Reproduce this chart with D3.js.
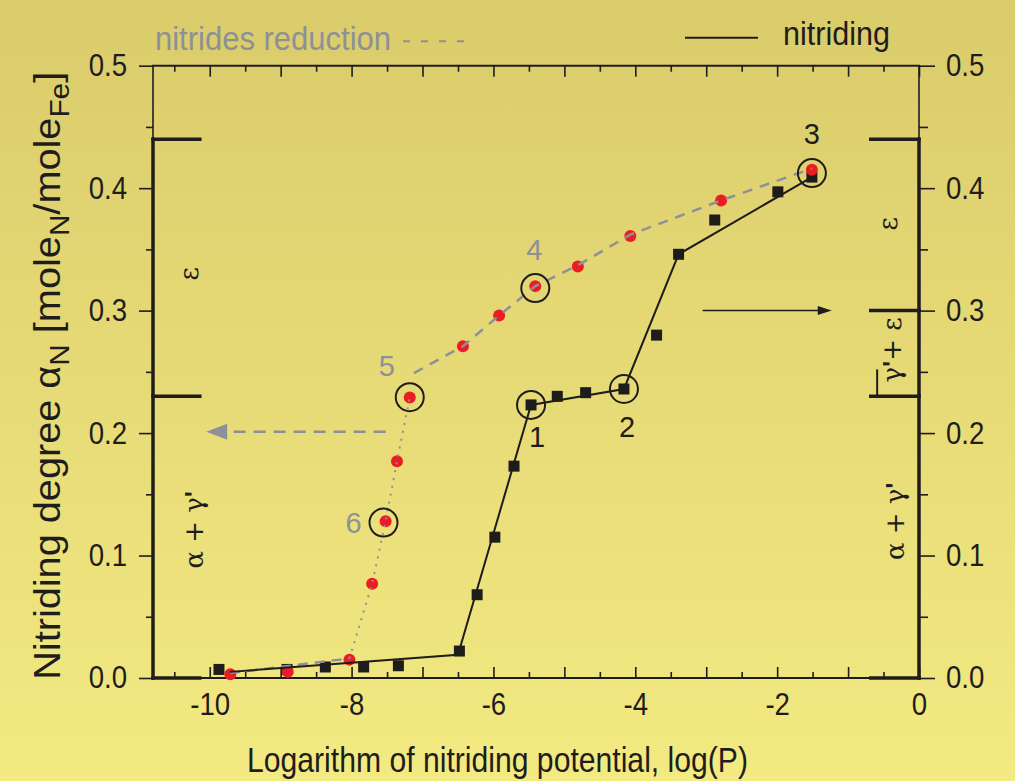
<!DOCTYPE html>
<html><head><meta charset="utf-8">
<script src="https://cdn.jsdelivr.net/npm/d3@7/dist/d3.min.js"></script>
<style>html,body{margin:0;padding:0;overflow:hidden;background:#e6d876}</style>
</head><body>
<svg id="chart" width="1015" height="781"></svg>
<script>
// ---------- data ----------
const nitridingX = [-9.87, -8.91, -8.37, -7.83, -7.34, -6.48, -6.23, -5.98, -5.71, -5.47, -5.10, -4.70, -4.16, -3.70, -3.39, -2.88, -1.99, -1.51];
const nitridingY = [0.007, 0.007, 0.009, 0.009, 0.010, 0.022, 0.068, 0.115, 0.173, 0.223, 0.230, 0.233, 0.236, 0.280, 0.346, 0.374, 0.397, 0.409];
const nitridingLineX = [-9.72, -6.50, -5.47, -4.16, -3.39, -1.51];
const nitridingLineY = [0.005, 0.019, 0.223, 0.236, 0.346, 0.409];
const reductionX = [-9.71, -8.90, -8.03, -7.71, -7.52, -7.36, -7.18, -6.43, -5.92, -5.41, -4.81, -4.07, -2.79, -1.51];
const reductionY = [0.003, 0.005, 0.015, 0.077, 0.128, 0.177, 0.229, 0.271, 0.296, 0.320, 0.336, 0.361, 0.390, 0.415];
const reductionLowDashX = [-9.71, -8.03];
const reductionLowDashY = [0.004, 0.016];
const reductionDottedX = [-8.03, -7.71, -7.52, -7.36, -7.18];
const reductionDottedY = [0.016, 0.077, 0.128, 0.177, 0.229];
const reductionDashX = [-7.12, -6.43, -5.92, -5.41, -4.81, -4.07, -2.79, -1.51];
const reductionDashY = [0.249, 0.271, 0.296, 0.320, 0.337, 0.362, 0.390, 0.416];
const xLabelTicks = [-10, -8, -6, -4, -2, 0];
const xMajorTicks = [-10, -9, -8, -7, -6, -5, -4, -3, -2, -1, 0];
const xMinorTicks = [-10.5, -9.5, -8.5, -7.5, -6.5, -5.5, -4.5, -3.5, -2.5, -1.5, -0.5];
const yTicks = [0.0, 0.1, 0.2, 0.3, 0.4, 0.5];
const yMinorTicks = [0.05, 0.15, 0.25, 0.35, 0.45];
const leftPhaseBounds = [0.44, 0.23, 0.0];
const rightPhaseBounds = [0.44, 0.30, 0.23, 0.0];
const phaseBarLeftEnd = -10.14;
const phaseBarRightStart = -0.68;
const leftPhaseLabels = ["ε", "α + γ'"];
const leftPhaseLabelX = [-10.28, -10.21];
const leftPhaseLabelY = [0.330, 0.121];
const rightPhaseLabels = ["ε", "γ'+ ε", "α + γ'"];
const rightPhaseLabelX = [-0.42, -0.36, -0.32];
const rightPhaseLabelY = [0.371, 0.268, 0.128];
const annotLabels = ["1", "2", "3", "4", "5", "6"];
const annotX = [-5.47, -4.16, -1.51, -5.41, -7.18, -7.55];
const annotY = [0.223, 0.236, 0.4123, 0.3184, 0.2293, 0.1269];
const grayArrowX = [-7.52, -10.05];
const grayArrowY = 0.201;
const blackArrowX = [-3.05, -1.23];
const blackArrowY = 0.300;
const gammaBarX = -0.59;
const gammaBarY = [0.23, 0.252];

// ---------- setup ----------
const W = 1015, H = 781;
const svg = d3.select("#chart");
const FONT = "'Liberation Sans', Arial, Helvetica, sans-serif";
const INK = "#1f1d1c";
const GRAY = "#8d9098";
const RED = "#ec1c24";
const SQ = 0.89;

const defs = svg.append("defs");
const grad = defs.append("linearGradient").attr("id", "bg").attr("x1", 0).attr("y1", 0).attr("x2", 0).attr("y2", 1);
grad.append("stop").attr("offset", "0%").attr("stop-color", "#dacb6b");
grad.append("stop").attr("offset", "100%").attr("stop-color", "#f3ea82");
svg.append("rect").attr("width", W).attr("height", H).attr("fill", "url(#bg)");

const x = d3.scaleLinear().domain([-10.8, 0]).range([153, 919]);
const y = d3.scaleLinear().domain([0, 0.5]).range([678, 65.7]);

function squeeze(sel, s) {
  sel.each(function () {
    const t = d3.select(this);
    const xv = +t.attr("x") || 0;
    t.attr("x", xv / s).attr("transform", `scale(${s},1)`);
  });
}
function styleAxis(g, sw) {
  g.select(".domain").remove();
  g.selectAll(".tick line").attr("stroke", INK).attr("stroke-width", sw);
  g.selectAll(".tick text").attr("fill", INK).attr("font-family", FONT).attr("font-size", 31);
}

// ---------- axes ----------
const gB1 = svg.append("g").attr("transform", `translate(0,${y(0)})`)
  .call(d3.axisBottom(x).tickValues(xMajorTicks).tickSize(-11).tickPadding(15)
    .tickFormat(d => xLabelTicks.includes(d) ? String(d) : ""));
styleAxis(gB1, 1.6);
squeeze(gB1.selectAll(".tick text"), SQ);
const gB2 = svg.append("g").attr("transform", `translate(0,${y(0)})`)
  .call(d3.axisBottom(x).tickValues(xMinorTicks).tickSize(-6).tickFormat(""));
styleAxis(gB2, 1.6);

const gT1 = svg.append("g").attr("transform", `translate(0,${y(0.5)})`)
  .call(d3.axisTop(x).tickValues(xMajorTicks).tickSize(-11).tickFormat(""));
styleAxis(gT1, 1.6);
const gT2 = svg.append("g").attr("transform", `translate(0,${y(0.5)})`)
  .call(d3.axisTop(x).tickValues(xMinorTicks).tickSize(-6).tickFormat(""));
styleAxis(gT2, 1.6);

const gL1 = svg.append("g").attr("transform", `translate(${x(-10.8)},0)`)
  .call(d3.axisLeft(y).tickValues(yTicks).tickSize(14).tickPadding(12).tickFormat(d3.format(".1f")));
styleAxis(gL1, 1.6);
squeeze(gL1.selectAll(".tick text"), SQ);
const gL2 = svg.append("g").attr("transform", `translate(${x(-10.8)},0)`)
  .call(d3.axisLeft(y).tickValues(yMinorTicks).tickSize(7).tickFormat(""));
styleAxis(gL2, 1.6);

const gR1 = svg.append("g").attr("transform", `translate(${x(0)},0)`)
  .call(d3.axisRight(y).tickValues(yTicks).tickSize(16).tickPadding(11).tickFormat(d3.format(".1f")));
styleAxis(gR1, 1.6);
squeeze(gR1.selectAll(".tick text"), SQ);
const gR2 = svg.append("g").attr("transform", `translate(${x(0)},0)`)
  .call(d3.axisRight(y).tickValues(yMinorTicks).tickSize(9).tickFormat(""));
styleAxis(gR2, 1.6);

// ---------- frame ----------
const frame = svg.append("g").attr("stroke", INK).attr("fill", "none").attr("stroke-linecap", "square");
frame.append("line").attr("x1", x(-10.8)).attr("x2", x(0)).attr("y1", y(0.5)).attr("y2", y(0.5)).attr("stroke-width", 2);
frame.append("line").attr("x1", x(-10.8)).attr("x2", x(0)).attr("y1", y(0)).attr("y2", y(0)).attr("stroke-width", 2);
[-10.8, 0].forEach(v => {
  frame.append("line").attr("x1", x(v)).attr("x2", x(v)).attr("y1", y(0.5)).attr("y2", y(0.44)).attr("stroke-width", 1.6);
  frame.append("line").attr("x1", x(v)).attr("x2", x(v)).attr("y1", y(0.44)).attr("y2", y(0)).attr("stroke-width", 3.5);
});
frame.selectAll(".pl").data(leftPhaseBounds).join("line")
  .attr("x1", x(-10.8)).attr("x2", x(phaseBarLeftEnd)).attr("y1", d => y(d)).attr("y2", d => y(d)).attr("stroke-width", 3.5);
frame.selectAll(".pr").data(rightPhaseBounds).join("line")
  .attr("x1", x(phaseBarRightStart)).attr("x2", x(0)).attr("y1", d => y(d)).attr("y2", d => y(d)).attr("stroke-width", 3.5);
frame.append("line").attr("x1", x(gammaBarX)).attr("x2", x(gammaBarX)).attr("y1", y(gammaBarY[0])).attr("y2", y(gammaBarY[1])).attr("stroke-width", 2).attr("stroke-linecap", "butt");

// phase labels
function phaseLabel(txt, px, py) {
  const t = svg.append("text").attr("transform", `translate(${px},${py}) rotate(-90)`)
    .attr("text-anchor", "middle").attr("dy", "0.3em").attr("font-family", "'DejaVu Serif', 'Liberation Serif', serif")
    .attr("font-size", 26).attr("fill", INK);
  const parts = txt.split("'");
  parts.forEach((p, i) => {
    t.append("tspan").text(p);
    if (i < parts.length - 1) t.append("tspan").attr("font-weight", "bold").attr("font-family", FONT).text("'");
  });
}
leftPhaseLabels.forEach((s, i) => phaseLabel(s, x(leftPhaseLabelX[i]), y(leftPhaseLabelY[i])));
rightPhaseLabels.forEach((s, i) => phaseLabel(s, x(rightPhaseLabelX[i]), y(rightPhaseLabelY[i])));

// ---------- data marks ----------
const redPts = reductionX.map((v, i) => [v, reductionY[i]]);
const sqPts = nitridingX.map((v, i) => [v, nitridingY[i]]);
const line = d3.line().x(d => x(d[0])).y(d => y(d[1]));

svg.append("g").selectAll("rect").data(sqPts).join("rect")
  .attr("x", d => x(d[0]) - 5.5).attr("y", d => y(d[1]) - 5.5).attr("width", 11).attr("height", 11).attr("fill", INK);
svg.append("g").selectAll("circle").data(redPts).join("circle")
  .attr("cx", d => x(d[0])).attr("cy", d => y(d[1])).attr("r", 6).attr("fill", RED);

svg.append("path").datum(reductionLowDashX.map((v, i) => [v, reductionLowDashY[i]])).attr("d", line)
  .attr("fill", "none").attr("stroke", GRAY).attr("stroke-width", 2.5).attr("stroke-dasharray", "10,7");
svg.append("path").datum(reductionDottedX.map((v, i) => [v, reductionDottedY[i]])).attr("d", line)
  .attr("fill", "none").attr("stroke", GRAY).attr("stroke-width", 2).attr("stroke-dasharray", "2,6");
svg.append("path").datum(reductionDashX.map((v, i) => [v, reductionDashY[i]])).attr("d", line)
  .attr("fill", "none").attr("stroke", GRAY).attr("stroke-width", 2.5).attr("stroke-dasharray", "10,8");
svg.append("path").datum(nitridingLineX.map((v, i) => [v, nitridingLineY[i]])).attr("d", line)
  .attr("fill", "none").attr("stroke", INK).attr("stroke-width", 2);

// arrows
const ga0 = x(grayArrowX[0]), ga1 = x(grayArrowX[1]), gay = y(grayArrowY);
svg.append("line").attr("x1", ga0).attr("x2", ga1 + 20).attr("y1", gay).attr("y2", gay)
  .attr("stroke", GRAY).attr("stroke-width", 2.5).attr("stroke-dasharray", "12,8");
svg.append("path").attr("d", `M${ga1},${gay} L${ga1 + 21},${gay - 8} L${ga1 + 21},${gay + 8} Z`).attr("fill", GRAY);
const ba0 = x(blackArrowX[0]), ba1 = x(blackArrowX[1]), bay = y(blackArrowY);
svg.append("line").attr("x1", ba0).attr("x2", ba1 - 10).attr("y1", bay).attr("y2", bay).attr("stroke", INK).attr("stroke-width", 1.5);
svg.append("path").attr("d", `M${ba1},${bay} L${ba1 - 14},${bay - 4.5} L${ba1 - 14},${bay + 4.5} Z`).attr("fill", INK);

// annotations
const annotColor = [INK, INK, INK, GRAY, GRAY, GRAY];
const annotOff = [[6, 32], [3, 38], [0, -40], [-1, -39], [-23, -32], [-30, 0]];
annotLabels.forEach((s, i) => {
  const cx = x(annotX[i]), cy = y(annotY[i]);
  svg.append("circle").attr("cx", cx).attr("cy", cy).attr("r", 14).attr("fill", "none").attr("stroke", INK).attr("stroke-width", 2);
  svg.append("text").attr("x", cx + annotOff[i][0]).attr("y", cy + annotOff[i][1]).attr("dy", "0.36em")
    .attr("text-anchor", "middle").attr("font-family", FONT).attr("font-size", 29).attr("fill", annotColor[i]).text(s);
});

// ---------- titles & legend ----------
svg.append("text").attr("x", 497.5).attr("y", 772).attr("text-anchor", "middle")
  .attr("font-family", FONT).attr("font-size", 35).attr("fill", INK)
  .attr("textLength", 501).attr("lengthAdjust", "spacingAndGlyphs")
  .text("Logarithm of nitriding potential, log(P)");

const yt = svg.append("text").attr("transform", "translate(60,375.8) rotate(-90)").attr("text-anchor", "middle")
  .attr("font-family", FONT).attr("font-size", 36).attr("fill", INK)
  .attr("textLength", 608).attr("lengthAdjust", "spacingAndGlyphs");
yt.append("tspan").text("Nitriding degree α");
yt.append("tspan").attr("font-size", 27).attr("dy", 9).text("N");
yt.append("tspan").attr("dy", -9).text(" [mole");
yt.append("tspan").attr("font-size", 27).attr("dy", 9).text("N");
yt.append("tspan").attr("dy", -9).text("/mole");
yt.append("tspan").attr("font-size", 27).attr("dy", 9).text("Fe");
yt.append("tspan").attr("dy", -9).text("]");

svg.append("text").attr("x", 155).attr("y", 49.7).attr("font-family", FONT).attr("font-size", 33).attr("fill", GRAY)
  .attr("textLength", 236).attr("lengthAdjust", "spacingAndGlyphs").text("nitrides reduction");
svg.append("line").attr("x1", 403).attr("x2", 466).attr("y1", 41.3).attr("y2", 41.3)
  .attr("stroke", GRAY).attr("stroke-width", 2).attr("stroke-dasharray", "7,11");
svg.append("line").attr("x1", 685).attr("x2", 758).attr("y1", 37.7).attr("y2", 37.7).attr("stroke", INK).attr("stroke-width", 2);
svg.append("text").attr("x", 783).attr("y", 45.3).attr("font-family", FONT).attr("font-size", 33).attr("fill", INK)
  .attr("textLength", 107).attr("lengthAdjust", "spacingAndGlyphs").text("nitriding");
</script>
</body></html>
